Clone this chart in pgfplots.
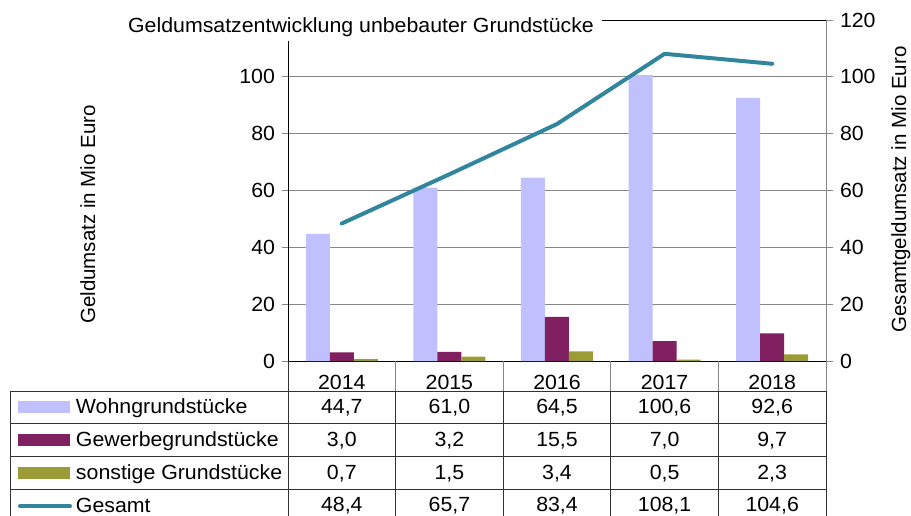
\documentclass[border=0pt]{standalone}
\usepackage{fontspec}
\setmainfont{Liberation Sans}[FakeStretch=1.04]
\newfontfamily\rotfont{Liberation Sans}
\usepackage{pgfplots}
\pgfplotsset{compat=1.18}
\definecolor{wohn}{RGB}{192,192,255}
\definecolor{gew}{RGB}{128,32,96}
\definecolor{sonst}{RGB}{155,155,55}
\definecolor{ges}{RGB}{49,133,156}
\definecolor{gridc}{RGB}{134,134,134}
\newcommand\ff{\fontsize{20.5}{24}\selectfont}
\begin{document}
\ff
\begin{tikzpicture}[x=1pt,y=-1pt]
\useasboundingbox (0,0) rectangle (911,515);
\clip (0,0) rectangle (911,515);
\begin{axis}[
  at={(288pt,-361pt)}, anchor=south west,
  scale only axis, width=538pt, height=341pt,
  xmin=-0.5, xmax=4.5, ymin=0, ymax=120,
  axis x line*=bottom, axis y line*=left,
  xtick={0,1,2,3,4}, xticklabels={2014,2015,2016,2017,2018},
  x tick style={draw=none},
  xticklabel style={anchor=center, yshift=-15pt},
  ytick={0,20,40,60,80,100},
  y tick style={draw=gridc, line width=0.8pt},
  tick align=outside, major tick length=6pt,
  ymajorgrids, grid style={gridc, line width=0.8pt},
  axis line style={black, line width=0.8pt},
  tick label style={font=\ff},
  /pgf/number format/assume math mode=true,
  legend cell align=left,
  legend style={at={(-0.50186,-0.1106)}, anchor=north west, draw=none, fill=none,
    inner sep=0pt, outer sep=0pt, row sep=15.5pt, column sep=4pt, font=\ff,
    nodes={inner sep=0pt, text height=14.7pt, text depth=2.7pt}},
  clip=false,
]
\addplot[ybar, bar width=24pt, bar shift=-24pt, fill=wohn, draw=none,
  legend image code/.code={\fill[wohn] (0pt,-6pt) rectangle (52pt,6pt);}]
  coordinates {(0,44.7) (1,61.0) (2,64.5) (3,100.6) (4,92.6)};
\addlegendentry{Wohngrundstücke}
\addplot[ybar, bar width=24pt, bar shift=0pt, fill=gew, draw=none,
  legend image code/.code={\fill[gew] (0pt,-6pt) rectangle (52pt,6pt);}]
  coordinates {(0,3.0) (1,3.2) (2,15.5) (3,7.0) (4,9.7)};
\addlegendentry{Gewerbegrundstücke}
\addplot[ybar, bar width=24pt, bar shift=24pt, fill=sonst, draw=none,
  legend image code/.code={\fill[sonst] (0pt,-6pt) rectangle (52pt,6pt);}]
  coordinates {(0,0.7) (1,1.5) (2,3.4) (3,0.5) (4,2.3)};
\addlegendentry{sonstige Grundstücke}
\addplot[ges, line width=4pt, line cap=round, line join=round, mark=none,
  legend image code/.code={\draw[ges, line width=4pt, line cap=round] (2pt,0pt) -- (52pt,0pt);}]
  coordinates {(0,48.4) (1,65.7) (2,83.4) (3,108.1) (4,104.6)};
\addlegendentry{Gesamt}
\end{axis}
\begin{axis}[
  at={(288pt,-361pt)}, anchor=south west,
  scale only axis, width=538pt, height=341pt,
  xmin=-0.5, xmax=4.5, ymin=0, ymax=120,
  axis x line=none, axis y line*=right,
  ytick={0,20,40,60,80,100,120},
  tick align=outside, major tick length=7pt,
  y tick style={draw=gridc, line width=0.8pt},
  axis line style={draw=gridc, line width=0.8pt},
  tick label style={font=\ff},
  yticklabel style={anchor=west},
  /pgf/number format/assume math mode=true,
]
\addplot[draw=none] coordinates {(0,0)};
\end{axis}
% top frame line
\draw[black, line width=0.8pt] (288,20) -- (826,20);
% title
\fill[white] (110,0) rectangle (602,41);
\node[anchor=base, inner sep=0pt] at (361,32) {Geldumsatzentwicklung unbebauter Grundstücke};
% axis titles
\node[rotate=90, anchor=base, inner sep=0pt, font=\rotfont\ff] at (95,214.5) {Geldumsatz in Mio Euro};
\node[rotate=90, anchor=base, inner sep=0pt, font=\rotfont\ff] at (906,189.5) {Gesamtgeldumsatz in Mio Euro};
% table grid
\begin{scope}[line width=0.8pt]
\foreach \yy in {391,423.5,456.7,489.3}{\draw[black!80] (10,\yy) -- (826,\yy);}
\draw[black!80] (10,391) -- (10,520);
\draw[black!80] (288,361) -- (288,520);
\draw[gridc] (826,361) -- (826,391);
\draw[black!80] (826,391) -- (826,520);
\foreach \xx in {395.6,503.2,610.8,718.4}{
  \draw[gridc] (\xx,361) -- (\xx,391);
  \draw[black!80] (\xx,391) -- (\xx,520);
}
\end{scope}
% table values
\foreach \a/\b/\c/\d [count=\i from 0] in {
  {44,7}/{3,0}/{0,7}/{48,4},
  {61,0}/{3,2}/{1,5}/{65,7},
  {64,5}/{15,5}/{3,4}/{83,4},
  {100,6}/{7,0}/{0,5}/{108,1},
  {92,6}/{9,7}/{2,3}/{104,6}}{
  \pgfmathsetmacro\cx{341.8+107.6*\i}
  \node[anchor=base, inner sep=0pt] at (\cx,413.3) {\a};
  \node[anchor=base, inner sep=0pt] at (\cx,446.3) {\b};
  \node[anchor=base, inner sep=0pt] at (\cx,479.3) {\c};
  \node[anchor=base, inner sep=0pt] at (\cx,511.3) {\d};
}
\end{tikzpicture}
\end{document}
